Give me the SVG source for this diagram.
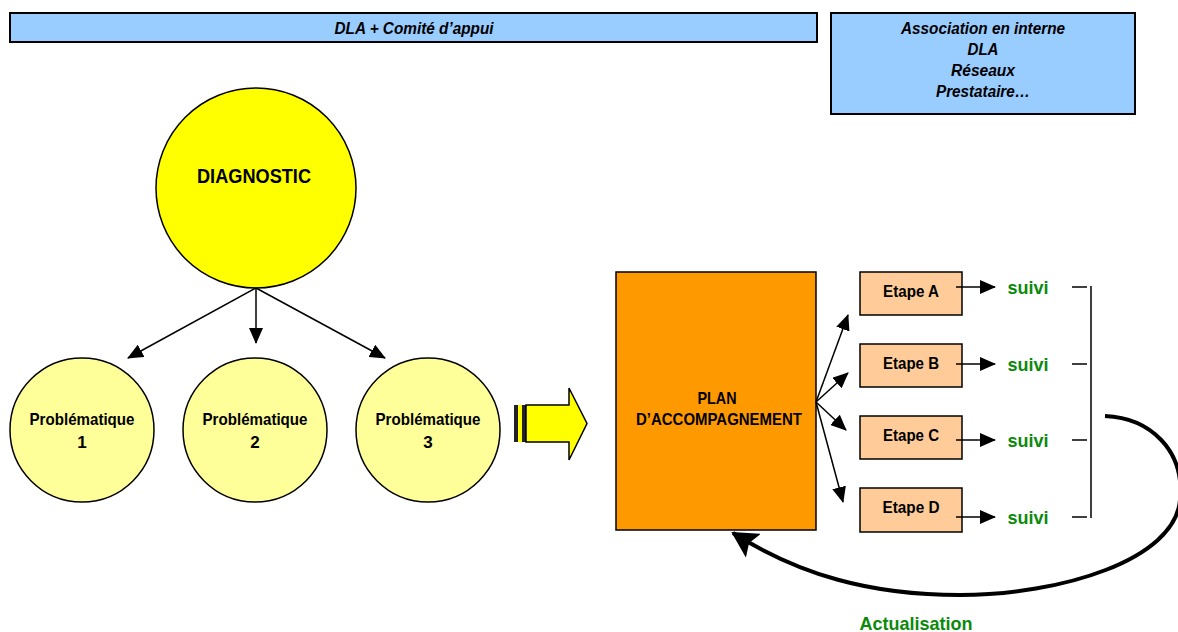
<svg xmlns="http://www.w3.org/2000/svg" width="1178" height="632" viewBox="0 0 1178 632">
<style>
text{font-family:"Liberation Sans",Arial,sans-serif;font-weight:bold;text-anchor:middle;fill:#000}
.it{font-style:italic;font-size:16px}
.blue{fill:#99CCFF;stroke:#000;stroke-width:2}
.prob{fill:#FFFF99;stroke:#000;stroke-width:1.5}
.pt{font-size:17px}
.etape{fill:#FFCC99;stroke:#000;stroke-width:1.5}
.et{font-size:17px}
.suivi{font-size:19px;fill:#0A8A0A}
.ln{stroke:#000;stroke-width:1.5;fill:none}
</style>
<defs>
<marker id="ah" markerUnits="userSpaceOnUse" markerWidth="16" markerHeight="14" refX="15" refY="7" orient="auto">
<path d="M0,0 L16,7 L0,14 Z" fill="#000"/>
</marker>
<marker id="big" markerUnits="userSpaceOnUse" markerWidth="26" markerHeight="28" refX="24" refY="14" orient="auto">
<path d="M0,0 L26,14 L0,28 L5,14 Z" fill="#000"/>
</marker>
</defs>

<g id="top-bar">
<rect class="blue" x="10" y="13" width="807" height="29"/>
<text class="it" x="414" y="34" textLength="159" lengthAdjust="spacingAndGlyphs">DLA + Comité d’appui</text>
</g>
<g id="actors-box">
<rect class="blue" x="831" y="13" width="304" height="101"/>
<text class="it" x="983" y="34" textLength="164" lengthAdjust="spacingAndGlyphs">Association en interne</text>
<text class="it" x="983" y="55" textLength="31" lengthAdjust="spacingAndGlyphs">DLA</text>
<text class="it" x="983" y="76" textLength="64" lengthAdjust="spacingAndGlyphs">Réseaux</text>
<text class="it" x="983" y="97" textLength="94" lengthAdjust="spacingAndGlyphs">Prestataire…</text>
</g>

<g id="diagnostic">
<circle cx="256" cy="188" r="100" fill="#FFFF00" stroke="#000" stroke-width="1.5"/>
<text x="254" y="183" font-size="21" textLength="114" lengthAdjust="spacingAndGlyphs">DIAGNOSTIC</text>
</g>
<g id="prob1">
<circle class="prob" cx="82" cy="430" r="72"/>
<text class="pt" x="82" y="425" textLength="105" lengthAdjust="spacingAndGlyphs">Problématique</text>
<text class="pt" x="82" y="448">1</text>
</g>
<g id="prob2">
<circle class="prob" cx="255" cy="430" r="72"/>
<text class="pt" x="255" y="425" textLength="105" lengthAdjust="spacingAndGlyphs">Problématique</text>
<text class="pt" x="255" y="448">2</text>
</g>
<g id="prob3">
<circle class="prob" cx="428" cy="430" r="72"/>
<text class="pt" x="428" y="425" textLength="105" lengthAdjust="spacingAndGlyphs">Problématique</text>
<text class="pt" x="428" y="448">3</text>
</g>

<g id="block-arrow">
<rect x="514" y="405" width="4" height="37" fill="#222"/>
<rect x="518" y="405" width="4" height="37" fill="#FFFF00"/>
<rect x="522" y="405" width="4" height="37" fill="#222"/>
<path d="M526,405 L569,405 L569,388 L587,423.5 L569,460 L569,442 L526,442 Z" fill="#FFFF00" stroke="#000" stroke-width="1.5"/>
</g>

<g id="plan">
<rect x="616" y="272" width="200" height="258" fill="#FF9900" stroke="#000" stroke-width="1.5"/>
<text x="717" y="404" font-size="17" textLength="39" lengthAdjust="spacingAndGlyphs">PLAN</text>
<text x="719" y="425" font-size="17" textLength="166" lengthAdjust="spacingAndGlyphs">D’ACCOMPAGNEMENT</text>
</g>

<g id="etapeA"><rect class="etape" x="860" y="272" width="102" height="43"/><text class="et" x="911" y="297" textLength="56" lengthAdjust="spacingAndGlyphs">Etape A</text></g>
<g id="etapeB"><rect class="etape" x="860" y="344" width="102" height="43"/><text class="et" x="911" y="369" textLength="56" lengthAdjust="spacingAndGlyphs">Etape B</text></g>
<g id="etapeC"><rect class="etape" x="860" y="416" width="102" height="43"/><text class="et" x="911" y="441" textLength="56" lengthAdjust="spacingAndGlyphs">Etape C</text></g>
<g id="etapeD"><rect class="etape" x="860" y="488" width="102" height="44"/><text class="et" x="911" y="513" textLength="57" lengthAdjust="spacingAndGlyphs">Etape D</text></g>

<g id="suivi-labels">
<text class="suivi" x="1028" y="294" textLength="41" lengthAdjust="spacingAndGlyphs">suivi</text>
<text class="suivi" x="1028" y="371" textLength="41" lengthAdjust="spacingAndGlyphs">suivi</text>
<text class="suivi" x="1028" y="447" textLength="41" lengthAdjust="spacingAndGlyphs">suivi</text>
<text class="suivi" x="1028" y="524" textLength="41" lengthAdjust="spacingAndGlyphs">suivi</text>
<text class="suivi" x="916" y="630" font-size="20" textLength="113" lengthAdjust="spacingAndGlyphs">Actualisation</text>
</g>

<g id="connectors">
<line class="ln" x1="256" y1="288" x2="128" y2="358" marker-end="url(#ah)"/>
<line class="ln" x1="256" y1="288" x2="256" y2="343" marker-end="url(#ah)"/>
<line class="ln" x1="256" y1="288" x2="385" y2="358" marker-end="url(#ah)"/>

<line class="ln" x1="816" y1="402" x2="848" y2="315" marker-end="url(#ah)"/>
<line class="ln" x1="816" y1="402" x2="848" y2="373" marker-end="url(#ah)"/>
<line class="ln" x1="816" y1="402" x2="846" y2="430" marker-end="url(#ah)"/>
<line class="ln" x1="816" y1="402" x2="843" y2="502" marker-end="url(#ah)"/>

<line class="ln" x1="956" y1="287" x2="995" y2="287" marker-end="url(#ah)"/>
<line class="ln" x1="956" y1="364" x2="995" y2="364" marker-end="url(#ah)"/>
<line class="ln" x1="956" y1="440" x2="995" y2="440" marker-end="url(#ah)"/>
<line class="ln" x1="956" y1="517" x2="995" y2="517" marker-end="url(#ah)"/>

<line class="ln" x1="1072" y1="287" x2="1087" y2="287"/>
<line class="ln" x1="1072" y1="364" x2="1087" y2="364"/>
<line class="ln" x1="1072" y1="440" x2="1087" y2="440"/>
<line class="ln" x1="1072" y1="517" x2="1087" y2="517"/>
<line class="ln" x1="1091" y1="286" x2="1091" y2="518"/>

<path d="M1105,416 C1150,418 1185,450 1180,500 C1175,560 1060,595 960,595 C870,595 800,575 733,533" fill="none" stroke="#000" stroke-width="4" marker-end="url(#big)"/>
</g>
</svg>
